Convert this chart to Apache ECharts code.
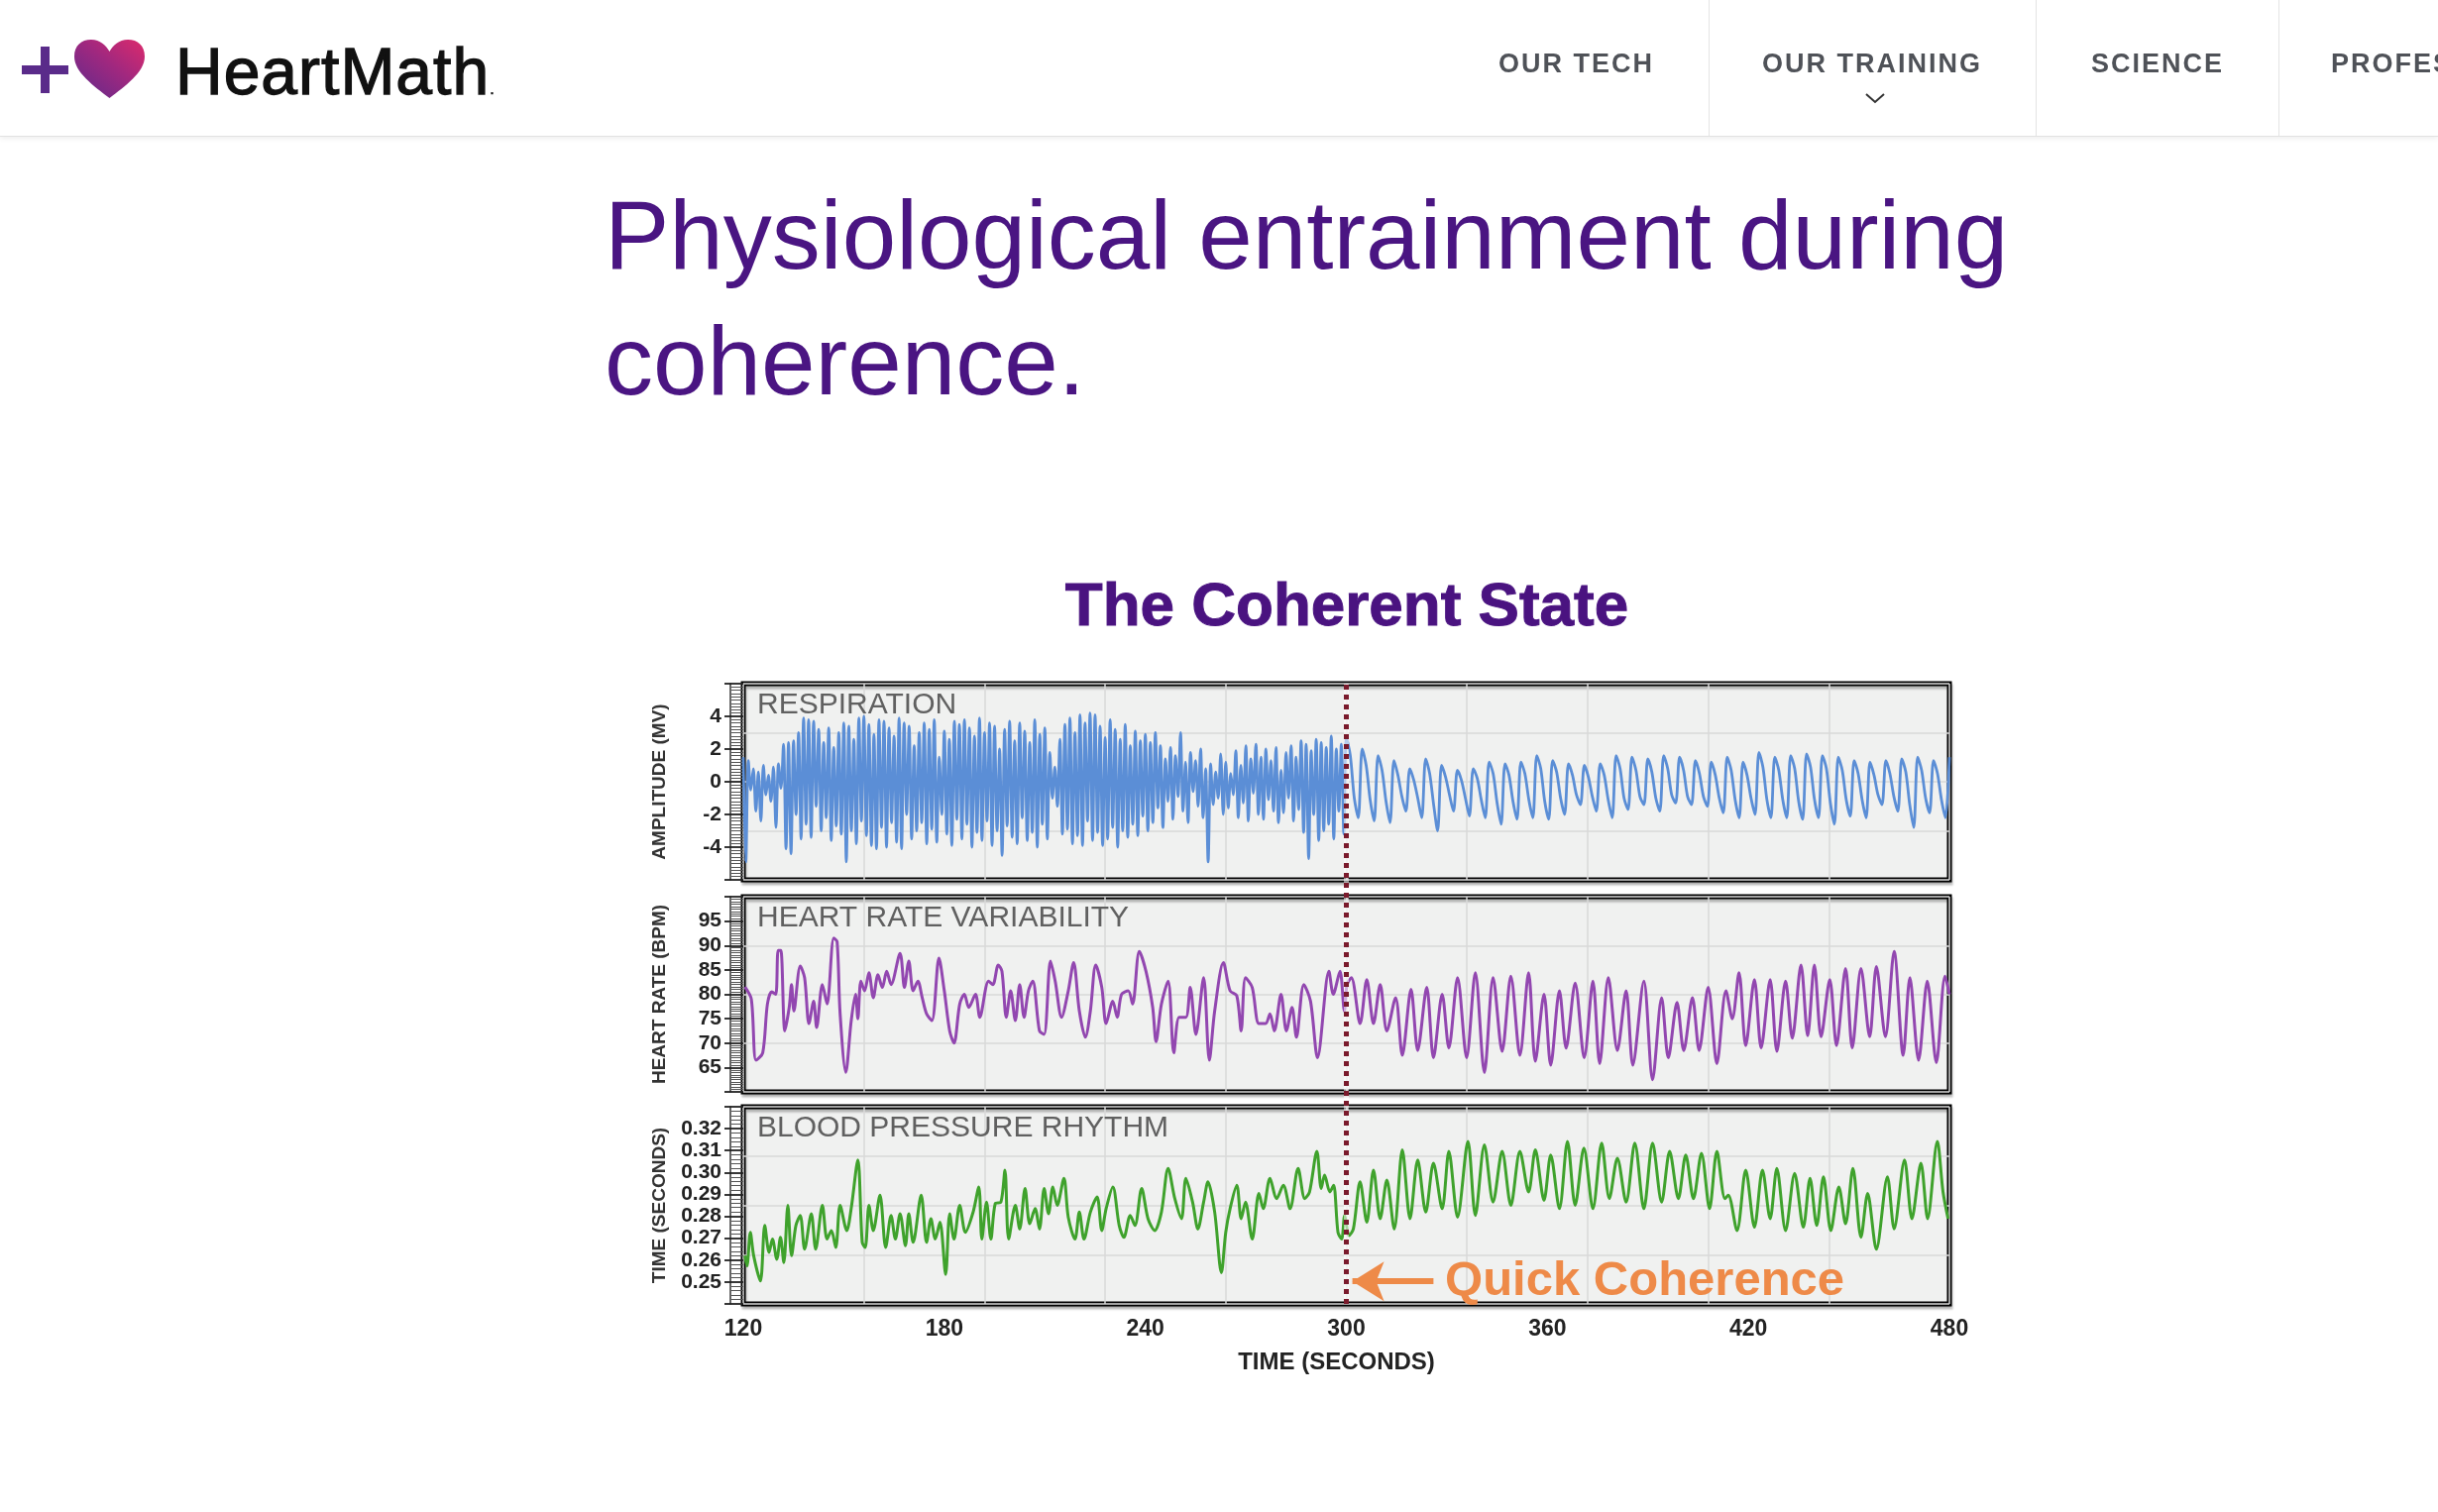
<!DOCTYPE html>
<html>
<head>
<meta charset="utf-8">
<script src="https://cdn.jsdelivr.net/npm/echarts@6/dist/echarts.min.js"></script>
<style>
html,body{margin:0;padding:0;width:2460px;height:1526px;overflow:hidden;background:#fff;font-family:'Liberation Sans',Arial,sans-serif;}
#header{position:absolute;left:0;top:0;width:2460px;height:137px;background:#fff;border-bottom:1px solid #e2e2e2;box-shadow:0 2px 5px rgba(0,0,0,0.07);z-index:5;overflow:hidden;}
.brand{position:absolute;left:177px;top:39px;font-size:66px;line-height:66px;font-weight:normal;-webkit-text-stroke:1.3px #111;letter-spacing:1px;color:#111;white-space:nowrap;}
.brand small{font-size:16px;letter-spacing:0;-webkit-text-stroke:0.5px #111;}
.nav{position:absolute;top:51px;font-size:27px;line-height:27px;font-weight:bold;letter-spacing:2px;color:#4f5258;white-space:nowrap;}
.sep{position:absolute;top:0;width:1px;height:137px;background:#e4e4e4;}
#pagetitle{position:absolute;left:610px;top:174px;font-size:98px;line-height:127px;color:#4a1582;white-space:nowrap;z-index:4;}
#chart{position:absolute;left:0;top:0;width:2460px;height:1526px;z-index:1;}
</style>
</head>
<body>
<div id="header">
  <svg width="160" height="137" style="position:absolute;left:0;top:0">
    <defs>
      <linearGradient id="hg" x1="0" y1="1" x2="1" y2="0">
        <stop offset="0" stop-color="#5d2a8c"/>
        <stop offset="0.55" stop-color="#a0287f"/>
        <stop offset="1" stop-color="#dd2a6c"/>
      </linearGradient>
    </defs>
    <rect x="22" y="66" width="47" height="9" fill="#5a2b8a"/>
    <rect x="41" y="47" width="9" height="47" fill="#5a2b8a"/>
    <path d="M110.5,99 C95,87 75,73 75,57 C75,46 82,40 92,40 C101,40 107,46 110.5,52 C114,46 120,40 129,40 C139,40 146,46 146,57 C146,73 126,87 110.5,99 Z" fill="url(#hg)"/>
  </svg>
  <div class="brand">HeartMath<small>.</small></div>
  <div class="nav" style="left:1512px">OUR TECH</div>
  <div class="sep" style="left:1724px"></div>
  <div class="nav" style="left:1778px">OUR TRAINING</div>
  <svg width="24" height="14" style="position:absolute;left:1880px;top:92px"><polyline points="3,3 12,11 21,3" fill="none" stroke="#333" stroke-width="2"/></svg>
  <div class="sep" style="left:2054px"></div>
  <div class="nav" style="left:2110px">SCIENCE</div>
  <div class="sep" style="left:2299px"></div>
  <div class="nav" style="left:2352px">PROFESSIONALS</div>
</div>
<div id="pagetitle">Physiological entrainment during<br>coherence.</div>
<div id="chart"></div>
<script>
// ---------------- DATA ----------------
const chartTitle = 'The Coherent State';
const panelTitles = ['RESPIRATION', 'HEART RATE VARIABILITY', 'BLOOD PRESSURE RHYTHM'];
const yAxisNames = ['AMPLITUDE (MV)', 'HEART RATE (BPM)', 'TIME (SECONDS)'];
const xAxisName = 'TIME (SECONDS)';
const annotationText = 'Quick Coherence';
const coherenceStart = 300;
const timeRange = [120, 480];

// Respiration, 120–300 s, evenly spaced samples
const respPre = [
  1.5,-4.9,1.3,-0.5,0.8,-1.8,0.6,-2.4,1.0,-0.8,
  0.4,-1.2,0.9,-2.8,1.1,-0.4,2.3,-4.1,2.4,-4.4,
  2.5,-2.0,3.0,-3.5,3.9,-2.6,3.8,-3.4,3.7,-1.5,
  3.2,-3.0,2.4,-2.2,3.3,-3.6,2.1,-2.7,3.0,-3.2,
  3.6,-4.9,3.4,-3.0,2.6,-3.8,3.9,-2.4,4.0,-3.3,
  3.5,-3.9,2.9,-4.1,3.8,-2.8,3.7,-4.0,3.3,-2.5,
  2.8,-3.7,3.9,-4.1,3.6,-2.0,3.4,-3.5,2.2,-3.0,
  3.0,-2.5,3.6,-3.8,3.2,-2.9,3.8,-3.7,1.5,-2.0,
  3.1,-3.2,2.6,-3.9,3.7,-2.3,3.5,-3.5,3.8,-2.6,
  3.3,-4.0,2.8,-3.1,3.9,-3.6,3.0,-2.4,3.6,-3.9,
  3.4,-3.0,2.0,-4.5,3.2,-2.7,3.7,-3.4,2.5,-3.8,
  3.6,-2.2,3.1,-3.6,2.4,-3.1,3.8,-4.0,2.9,-2.6,
  3.3,-3.5,1.8,-1.0,0.9,-1.5,2.6,-3.2,3.5,-2.9,
  3.9,-3.8,3.0,-3.3,4.1,-3.9,3.6,-2.4,4.2,-3.6,
  4.1,-3.1,3.4,-3.9,2.7,-3.5,3.8,-2.8,3.2,-4.0,
  2.6,-3.0,3.5,-3.4,2.2,-2.6,3.1,-3.3,2.5,-2.1,
  2.9,-3.0,2.4,-2.5,3.0,-1.6,2.2,-2.8,1.4,-1.2,
  2.1,-2.3,1.6,-0.9,3.0,-1.8,1.2,-2.5,1.8,-0.6,
  1.3,-1.5,2.0,-2.2,0.8,-4.9,1.1,-1.4,0.6,-1.0,
  1.7,-2.0,1.2,-1.6,0.5,-0.8,1.9,-2.2,1.0,-1.3,
  2.2,-2.4,1.4,-0.7,2.3,-2.0,1.5,-2.3,2.0,-1.1,
  1.3,-1.8,2.1,-2.5,0.7,-1.9,1.8,-1.0,2.2,-2.4,
  1.5,-1.7,2.5,-3.1,2.3,-4.7,1.9,-2.0,2.6,-3.6,
  2.4,-3.0,2.1,-2.6,2.8,-3.5,2.0,-1.8,2.3,-3.2,
  2.7
];
// Respiration, 300–480 s (after start), evenly spaced samples
const respPost = [
  1.6,-1.0,-2.2,2.0,  1.0,-1.1,-2.4,1.6,  0.7,-1.2,-2.5,1.3,  0.4,-0.9,-1.8,0.8,
  0.1,-1.0,-2.2,1.4,  0.5,-1.4,-3.0,1.0,  0.3,-0.8,-1.8,0.7,  0.1,-1.0,-2.1,0.8,
  0.2,-1.1,-2.2,1.2,  0.5,-1.3,-2.6,1.1,  0.4,-1.2,-2.3,1.2,  0.5,-1.1,-2.2,1.6,
  0.8,-1.2,-2.3,1.3,  0.6,-1.0,-2.0,1.1,  0.4,-0.8,-1.4,1.0,  0.3,-0.9,-1.8,1.1,
  0.4,-1.1,-2.2,1.6,  0.8,-1.0,-1.7,1.5,  0.7,-0.9,-1.4,1.4,  0.6,-1.0,-1.8,1.6,
  0.8,-0.8,-1.3,1.5,  0.7,-0.9,-1.4,1.3,  0.5,-0.9,-1.5,1.2,  0.4,-1.0,-1.9,1.5,
  0.7,-1.1,-2.2,1.2,  0.4,-1.0,-2.0,1.8,  0.9,-1.1,-2.2,1.5,  0.7,-1.1,-2.2,1.6,
  0.8,-1.2,-2.3,1.7,  0.9,-1.1,-2.2,1.6,  0.8,-1.3,-2.6,1.5,  0.7,-1.1,-2.1,1.3,
  0.5,-1.1,-2.2,1.2,  0.4,-0.8,-1.4,1.3,  0.5,-0.9,-1.8,1.4,  0.6,-1.4,-2.8,1.5,
  0.7,-1.0,-1.9,1.3,  0.5,-1.1,-2.2,1.5
];

// Heart rate (bpm): [time s, value]
const hrvPoints = [
  [120.5,81.5],[122.4,79],[123.8,66.5],[125.8,68],[127.2,78],[128.5,80.5],[129.7,80],[130.4,89],[131.2,89],[132.4,72.5],
  [133.7,77.3],[134.4,82],[135.1,76.6],[137,85.8],[138.3,83.4],[139.6,74],[141,78.6],[141.9,73.2],[143.6,82],[145,78],
  [147,91.5],[148,90.8],[148.9,76],[150.6,64],[152.2,74.5],[153.5,80],[154.2,75],[155.1,82.7],[156.2,80.7],[157.5,84.4],
  [158.8,79.3],[160.2,84],[161.5,81.4],[162.8,84.7],[164.1,82],[166.8,88.4],[168.1,81.4],[169.4,86.8],[170.7,80.7],[172.1,82.7],
  [173.4,79.3],[174.7,76],[176.3,74.6],[178.4,87.4],[180,80.7],[181.6,72.5],[182.9,70],[184.6,78],[186,80],[187.3,77.3],
  [189.3,80],[190.6,75.3],[193.2,82.7],[194.5,82],[196.1,86],[197.2,84.7],[198.5,75.3],[199.8,80.7],[201.2,74.6],[202.5,82],
  [203.8,75.3],[205.1,80.7],[206.4,82.7],[208.4,72.5],[209.8,71.8],[211.7,86.8],[213.1,82.7],[215,75.3],[217,80.7],[218.6,86.5],
  [220.3,76.6],[222.1,71.2],[223.6,76.6],[225.2,86],[227,81.4],[228.3,74],[230.3,78.6],[231.6,75.3],[232.9,80],[234.9,80.7],
  [236.2,78],[238.2,88.8],[240.2,84.7],[242.2,77.3],[243.2,70.3],[244.8,78],[246.8,82.7],[248.5,68],[250.1,75.3],[252.1,75.3],
  [253.4,81.4],[255.1,71.8],[257.4,83.4],[259.1,66.5],[260.7,76.6],[263.3,86.5],[265.3,80.7],[267.3,79.7],[268.6,72.5],[269.9,83.4],
  [271.9,81.4],[273.9,74],[275.9,74],[277.2,76],[278.5,72.5],[280.5,80],[282.1,72.5],[283.8,77.3],[285.1,71.2],[287.3,82],
  [289.3,78.6],[291.4,67],[294.8,84.7],[296.1,80],[298.1,84.7],[299.4,76.6],[300.2,82],
  [301.5,83.4],[304.1,74],[306.1,83],[308.1,74],[310.1,82],[312.1,72.5],[314.7,79.3],[316.7,67.5],[319.3,81],[321.3,68.5],
  [324,81.4],[326,67],[328.6,80],[330.6,69],[333.2,83.4],[335.9,67],[338.5,84.4],[341.2,64],[343.8,83.4],[346.5,68.3],
  [349.1,83.7],[351.8,67.5],[354.4,84.4],[356.4,66.3],[359,80],[361,65.5],[363.6,80.7],[365.6,69],[368.3,82.3],[371,67],
  [373.6,82.7],[375.6,65.8],[378.2,83.4],[380.9,68.5],[383.5,80.7],[385.5,65.5],[388.8,82.7],[391.4,62.5],[394.1,79.3],[396.1,67],
  [398.7,78.3],[400.7,68.5],[403.3,79.3],[405.3,68.5],[408,81.4],[410.6,65.8],[413.3,80.7],[415.2,75],[417.2,84.4],[419.2,69.5],
  [421.8,83],[423.8,69],[426.5,83],[428.5,68.3],[431.1,82.7],[433.1,71],[435.7,86],[437.7,71.5],[439.7,86],[441.7,71.3],
  [444.3,83],[446.3,69.5],[449,85.3],[451,69],[453.6,85.3],[456.2,71.3],[458.2,85.7],[460.9,71.3],[463.5,88.8],[466.2,67.5],
  [468.2,83.4],[470.8,66.5],[473.4,82.7],[476.1,66],[478.7,83.7],[480,80]
];

// Blood pressure rhythm (s): [time s, value]
const bpPoints = [
  [120.5,0.262],[121.1,0.2573],[122.1,0.2727],[123.1,0.262],[125.1,0.2505],[126.4,0.2758],[127.7,0.2635],[128.7,0.2696],[130,0.2604],[131.1,0.2704],
  [132.1,0.2589],[133.3,0.285],[134.4,0.262],[135.7,0.2758],[137,0.2804],[138.3,0.265],[140.3,0.2812],[141.6,0.265],[143.6,0.285],[145,0.2696],
  [146.3,0.2735],[147.6,0.2658],[148.9,0.285],[150.9,0.2735],[152.2,0.2835],[154.2,0.3057],[155.5,0.2681],[156.4,0.2658],[157.5,0.285],[158.8,0.2735],
  [160.8,0.2896],[162.5,0.2658],[164.1,0.2804],[165.4,0.2696],[166.8,0.2812],[168.4,0.2666],[169.4,0.2812],[170.7,0.2681],[173.1,0.2896],[174.7,0.2681],
  [176,0.2789],[177.3,0.2696],[178.7,0.2773],[180.4,0.2535],[181.6,0.2812],[182.9,0.2696],[184.6,0.285],[186.3,0.2727],[188.6,0.2819],[190.3,0.2934],
  [191.2,0.2696],[192.6,0.2865],[193.9,0.2696],[195.2,0.2858],[196.9,0.2865],[198.1,0.3011],[199.2,0.2696],[201.2,0.285],[202.5,0.2742],[204.1,0.2927],
  [205.5,0.2766],[207.1,0.2835],[208.4,0.2742],[209.8,0.2927],[211.1,0.2812],[212.4,0.2934],[213.7,0.285],[215.7,0.2973],[217,0.2796],[219,0.2696],
  [220.3,0.2819],[221.7,0.2696],[223.6,0.2819],[225.6,0.2888],[227,0.2735],[228.3,0.2835],[230.3,0.2934],[232.2,0.2758],[233.6,0.2704],[235.5,0.2804],
  [236.9,0.2758],[238.9,0.2927],[240.8,0.2789],[242.8,0.2735],[244.8,0.2819],[246.8,0.3019],[248.8,0.2881],[250.8,0.2789],[252.1,0.2973],[254.1,0.2865],
  [255.7,0.2742],[257.4,0.2865],[258.7,0.2957],[260.7,0.2819],[262.7,0.2543],[264,0.2727],[265.3,0.2835],[267.3,0.2942],[268.6,0.2789],[269.9,0.2865],
  [271.9,0.2696],[273.9,0.2904],[275.2,0.2835],[277.2,0.2973],[279.2,0.2881],[281.2,0.2942],[283.2,0.2835],[285.6,0.3019],[287.6,0.2881],[289,0.2911],
  [291.2,0.3096],[292.5,0.2927],[293.5,0.2988],[295.1,0.2911],[296.2,0.2942],[297.5,0.2727],[298.6,0.2696],[299.5,0.2804],[300.8,0.2712],[302.1,0.2743],
  [304.1,0.2957],[306.1,0.2773],[308.1,0.3011],[310.1,0.2789],[312.1,0.2965],[314.3,0.2742],[316.7,0.3103],[319,0.2789],[321.3,0.3057],[323.7,0.2819],
  [326,0.3042],[328.6,0.2835],[330.6,0.3096],[333.2,0.2796],[336.3,0.3142],[338.5,0.2804],[341.2,0.3126],[343.8,0.2865],[346.5,0.3096],[349.1,0.285],
  [351.8,0.3096],[354.4,0.2911],[356.4,0.3103],[359,0.2873],[361,0.308],[363.6,0.2835],[366,0.3142],[368.3,0.285],[370.9,0.3111],[373.6,0.2835],
  [376.2,0.3134],[378.5,0.2881],[380.9,0.3065],[383.5,0.2865],[386.1,0.3134],[388.8,0.2835],[391.4,0.3134],[394.1,0.2865],[396.5,0.3096],[399.1,0.2881],
  [401.3,0.308],[403.6,0.2881],[406,0.3088],[408.4,0.2835],[410.6,0.3096],[413,0.2881],[414,0.2896],[416.6,0.2735],[419.2,0.3011],[421.8,0.275],
  [424.2,0.3011],[426.5,0.2789],[428.5,0.3019],[431.1,0.2735],[433.8,0.2996],[436.4,0.275],[438.4,0.2973],[440.4,0.2758],[442.4,0.298],[444.6,0.2735],
  [447,0.2934],[449,0.2766],[451.2,0.3019],[453.6,0.2704],[455.6,0.2904],[458.2,0.265],[461.5,0.298],[463.5,0.2743],[466.6,0.3057],[468.8,0.2789],
  [471.5,0.3042],[473.5,0.2789],[476.4,0.3142],[478.1,0.2911],[479.6,0.2789]
];

// axis ranges / ticks
const respAxis = {min: -6, max: 6, interval: 2, labelMin: -4, labelMax: 4, minor: 10};
const hrvAxis = {min: 60, max: 100, interval: 5, labelMin: 65, labelMax: 95, minor: 10};
const bpAxis = {min: 0.24, max: 0.33, interval: 0.01, labelMin: 0.25, labelMax: 0.32, minor: 5};
const xLabelInterval = 60;
const xGridDivisions = 10;
const arrowY = 0.2503, arrowFrom = 326, arrowTo = 301.8, textAt = 329.3;

// ---------------- BUILD ----------------
const respData = respPre.map((v, i) => [timeRange[0] + i * (coherenceStart - timeRange[0]) / (respPre.length - 1), v])
  .concat(respPost.map((v, i) => [coherenceStart + (i + 1) * (timeRange[1] - coherenceStart) / respPost.length, v]));

const FONT = "'Liberation Sans', Arial, sans-serif";
const L = 750, W = 1217;
const panels = [{top: 690, h: 198}, {top: 905, h: 197}, {top: 1117, h: 199}];
const colors = ['#5b8ed6', '#9247b0', '#3fa22c'];
const orange = '#ee8a48';

const grids = panels.map(p => ({
  left: L, top: p.top, width: W, height: p.h, show: true, outerBoundsMode: 'none', containLabel: false,
  backgroundColor: '#f0f1f0', borderColor: '#000', borderWidth: 5,
  shadowColor: 'rgba(0,0,0,0.25)', shadowBlur: 2, shadowOffsetX: 1, shadowOffsetY: 3
}));
grids.push({left: L, top: panels[0].top, width: W, height: panels[2].top + panels[2].h - panels[0].top, show: false, outerBoundsMode: 'none'});

const splitLineStyle = {color: '#d8d9d8', width: 1.5};
function splitX(gi) {
  return {type: 'value', gridIndex: gi, min: timeRange[0], max: timeRange[1],
    interval: (timeRange[1] - timeRange[0]) / xGridDivisions,
    axisLine: {show: false}, axisTick: {show: false}, axisLabel: {show: false},
    splitLine: {show: true, lineStyle: splitLineStyle}};
}
// ruler ticks at the box edge
function tickY(gi, ax) {
  return {type: 'value', gridIndex: gi, min: ax.min, max: ax.max, interval: ax.interval,
    position: 'left', offset: 0,
    axisLine: {show: false},
    axisTick: {show: true, inside: false, length: 19, lineStyle: {color: '#222', width: 1.8}},
    minorTick: {show: true, splitNumber: ax.minor, length: 12, lineStyle: {color: '#555', width: 1}},
    axisLabel: {show: false}, splitLine: {show: false}, minorSplitLine: {show: false}};
}
function labelY(gi, ax, name, dec) {
  return {type: 'value', gridIndex: gi, min: ax.min, max: ax.max, interval: ax.interval,
    position: 'left', offset: 13, name: name, nameLocation: 'middle', nameGap: 62, nameRotate: 90,
    nameTextStyle: {fontSize: 19, fontWeight: 'bold', color: '#333', fontFamily: FONT},
    axisLine: {show: true, onZero: false, lineStyle: {color: '#333', width: 1.5}},
    axisTick: {show: false},
    axisLabel: {show: true, margin: 9, fontSize: 21, fontWeight: 'bold', color: '#222', fontFamily: FONT,
      showMinLabel: true, showMaxLabel: true,
      formatter: v => (v >= ax.labelMin - ax.interval * 0.1 && v <= ax.labelMax + ax.interval * 0.1) ? (dec ? Number(v).toFixed(dec) : String(Math.round(v))) : ''},
    splitLine: {show: false}, minorSplitLine: {show: false}};
}
function splitY(gi, ax) {
  return {type: 'value', gridIndex: gi, min: ax.min, max: ax.max, interval: (ax.max - ax.min) / 4, position: 'right',
    axisLine: {show: false}, axisTick: {show: false}, axisLabel: {show: false},
    splitLine: {show: true, lineStyle: splitLineStyle}};
}

const xAxes = [splitX(0), splitX(1), splitX(2),
  {type: 'value', gridIndex: 2, min: timeRange[0], max: timeRange[1], interval: xLabelInterval, position: 'bottom',
    axisLine: {show: false}, axisTick: {show: false}, splitLine: {show: false},
    axisLabel: {margin: 14, fontSize: 23, fontWeight: 'bold', color: '#222', fontFamily: FONT},
    name: xAxisName, nameLocation: 'middle', nameGap: 47,
    nameTextStyle: {fontSize: 24, fontWeight: 'bold', color: '#222', fontFamily: FONT, padding: [0, 20, 0, 0]}},
  {type: 'value', gridIndex: 3, min: timeRange[0], max: timeRange[1], show: false}
];
const yAxes = [
  tickY(0, respAxis), labelY(0, respAxis, yAxisNames[0], 0), splitY(0, respAxis),
  tickY(1, hrvAxis), labelY(1, hrvAxis, yAxisNames[1], 0), splitY(1, hrvAxis),
  tickY(2, bpAxis), labelY(2, bpAxis, yAxisNames[2], 2), splitY(2, bpAxis),
  {type: 'value', gridIndex: 3, min: 0, max: 1, show: false}
];

function lineSeries(data, xi, yi, color, width) {
  return {type: 'line', data: data, xAxisIndex: xi, yAxisIndex: yi, showSymbol: false, symbol: 'none',
    smooth: 0.3, lineStyle: {color: color, width: width}, itemStyle: {color: color},
    emphasis: {disabled: true}, silent: true, z: 3};
}

const series = [
  lineSeries(respData, 0, 1, colors[0], 2.8),
  lineSeries(hrvPoints, 1, 4, colors[1], 3),
  Object.assign(lineSeries(bpPoints, 2, 7, colors[2], 3), {
    markLine: {silent: true, animation: false, label: {show: false}, emphasis: {disabled: true},
      lineStyle: {color: orange, width: 6, type: 'solid'},
      data: [[{coord: [arrowFrom, arrowY], symbol: 'none'}, {coord: [arrowTo, arrowY], symbol: 'arrow', symbolSize: [30, 32]}]]},
    markPoint: {silent: true, animation: false,
      data: [{coord: [textAt, arrowY], symbol: 'circle', symbolSize: 1, itemStyle: {color: 'rgba(0,0,0,0)'},
        label: {show: true, position: 'right', distance: 0, formatter: annotationText, fontSize: 49, fontWeight: 'bold', color: orange, fontFamily: FONT}}]}
  }),
  {type: 'line', data: [], xAxisIndex: 4, yAxisIndex: 9, silent: true, z: 10,
    markLine: {silent: true, animation: false, symbol: ['none', 'none'], label: {show: false}, emphasis: {disabled: true},
      data: [
        {xAxis: coherenceStart, lineStyle: {color: '#ffffff', width: 5, type: 'solid', opacity: 0.55}},
        {xAxis: coherenceStart, lineStyle: {color: '#7a1b2c', width: 5, type: [5, 5], opacity: 1}}
      ]}}
];

const graphic = [{type: 'text', x: 1359, y: 614, z: 100,
  style: {text: chartTitle, fontSize: 62, fontWeight: 'bold', fontFamily: FONT, fill: '#4a1380', align: 'center', verticalAlign: 'middle',
    stroke: '#4a1380', lineWidth: 1}}]
  .concat(panelTitles.map((t, i) => ({type: 'text', x: 764, y: panels[i].top + 22, z: 100,
    style: {text: t, fontSize: 30, fontFamily: FONT, fill: '#606060', align: 'left', verticalAlign: 'middle'}})));

const chart = echarts.init(document.getElementById('chart'), null, {renderer: 'canvas'});
chart.setOption({
  animation: false,
  backgroundColor: 'transparent',
  textStyle: {fontFamily: FONT},
  grid: grids, xAxis: xAxes, yAxis: yAxes, series: series, graphic: graphic
});
</script>
</body>
</html>
